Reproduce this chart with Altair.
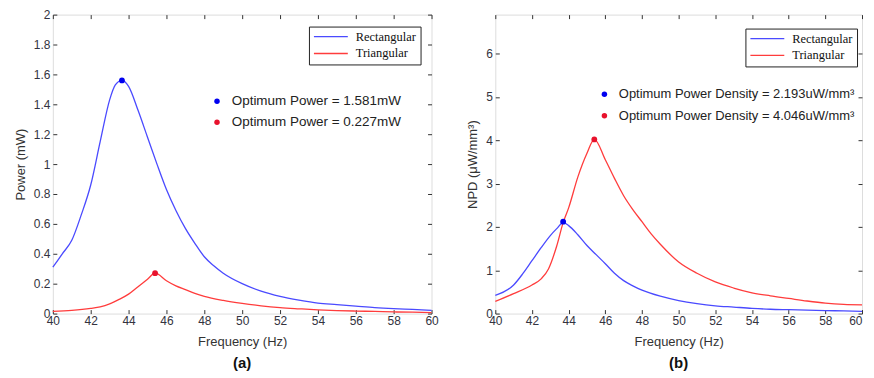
import altair as alt
import pandas as pd

# ---------------- data ----------------
series = ["Rectangular", "Triangular"]

# panel (a): power (mW)
freq_a_rect = [40, 40.5, 41, 41.5, 42, 42.5, 43, 43.3, 43.65, 44, 44.5, 45, 45.5, 46, 46.5, 47, 47.5, 48, 48.5, 49, 50, 51, 52, 53, 54, 55, 56, 57, 58, 59, 60]
power_rect = [0.31, 0.40, 0.49, 0.66, 0.86, 1.15, 1.43, 1.53, 1.56, 1.52, 1.36, 1.18, 1.00, 0.83, 0.69, 0.57, 0.47, 0.38, 0.32, 0.27, 0.20, 0.15, 0.115, 0.09, 0.07, 0.06, 0.05, 0.04, 0.033, 0.028, 0.022]
freq_a_tri = [40, 41, 42, 42.5, 43, 43.5, 44, 44.5, 45, 45.4, 46, 46.5, 47, 47.5, 48, 49, 50, 51, 52, 53, 54, 55, 56, 57, 58, 59, 60]
power_tri = [0.015, 0.022, 0.035, 0.045, 0.065, 0.095, 0.13, 0.18, 0.23, 0.27, 0.22, 0.185, 0.16, 0.135, 0.115, 0.088, 0.068, 0.052, 0.04, 0.032, 0.025, 0.02, 0.017, 0.014, 0.011, 0.009, 0.007]
peak_a_freq = [43.65, 45.4]
peak_a_val = [1.56, 0.27]
peak_a_labels = ["Optimum Power = 1.581mW", "Optimum Power = 0.227mW"]

# panel (b): NPD (uW/mm3)
freq_b_rect = [40, 41, 41.5, 42, 42.5, 43, 43.35, 43.7, 44, 44.5, 45, 45.5, 46, 46.5, 47, 47.5, 48, 49, 50, 51, 52, 53, 54, 55, 56, 57, 58, 59, 60]
npd_rect = [0.42, 0.66, 0.92, 1.22, 1.52, 1.8, 1.96, 2.1, 2.03, 1.82, 1.57, 1.36, 1.15, 0.93, 0.76, 0.64, 0.54, 0.4, 0.3, 0.23, 0.18, 0.15, 0.12, 0.1, 0.09, 0.08, 0.07, 0.06, 0.05]
freq_b_tri = [40, 41, 42, 42.5, 42.9, 43.35, 43.7, 44, 44.5, 45, 45.4, 46, 46.5, 47, 47.5, 48, 48.5, 49, 50, 51, 52, 53, 54, 55, 56, 57, 58, 59, 60]
npd_tri = [0.28, 0.46, 0.66, 0.8, 1.03, 1.56, 2.1, 2.44, 3.15, 3.7, 4.02, 3.55, 3.12, 2.72, 2.4, 2.12, 1.84, 1.6, 1.19, 0.93, 0.73, 0.59, 0.48, 0.41, 0.35, 0.29, 0.24, 0.21, 0.2]
peak_b_freq = [43.7, 45.4]
peak_b_val = [2.12, 4.02]
peak_b_labels = ["Optimum Power Density = 2.193uW/mm\u00b3", "Optimum Power Density = 4.046uW/mm\u00b3"]

x_ticks = [40, 42, 44, 46, 48, 50, 52, 54, 56, 58, 60]
y_ticks_a = [0, 0.2, 0.4, 0.6, 0.8, 1, 1.2, 1.4, 1.6, 1.8, 2]
y_ticks_b = [0, 1, 2, 3, 4, 5, 6]

LINE_COLORS = ["#4a4aff", "#ff3c3c"]
DOT_COLORS = ["#0000f0", "#e8122d"]
SANS = "Liberation Sans"
SERIF = "Liberation Serif"
LABEL_COLOR = "#333340"


def axis_common(**kw):
    base = dict(
        domain=False, grid=False, tickSize=4, offset=-4, tickColor="#333",
        labelFont=SANS, labelFontSize=12, labelColor=LABEL_COLOR, labelFlush=False,
        titleFont=SANS, titleFontSize=13, titleFontWeight="normal", titleColor="#333",
    )
    base.update(kw)
    return alt.Axis(**base)


def panel(fr, fv, tf, tv, pf, pv, plabels, ydom, yticks, ytitle, caption,
          leg_xy, dot_xy, dot_row_pad, dot_font, width, flush_last=False):
    lines_df = pd.DataFrame({
        "freq": list(fr) + list(tf),
        "value": list(fv) + list(tv),
        "series": [series[0]] * len(fr) + [series[1]] * len(tf),
    })
    peaks_df = pd.DataFrame({"freq": pf, "value": pv, "label": plabels})

    xs = alt.Scale(domain=[40, 60], nice=False, zero=False)
    ys = alt.Scale(domain=ydom, nice=False, zero=False)

    xkw = dict(values=x_ticks, title="Frequency (Hz)", labelPadding=2, titlePadding=9)
    if flush_last:
        xkw["labelAlign"] = alt.ConditionalAxisLabelAlign(
            condition={"test": "datum.value >= 60", "value": "right"}, value="center")
    x_main = alt.X("freq:Q", scale=xs, axis=axis_common(**xkw))
    y_main = alt.Y("value:Q", scale=ys, axis=axis_common(values=yticks, title=ytitle, format="~g",
                                                         labelPadding=3, titlePadding=6))

    lines = alt.Chart(lines_df).mark_line(strokeWidth=1.3, interpolate="monotone").encode(
        x=x_main,
        y=y_main,
        stroke=alt.Stroke(
            "series:N",
            scale=alt.Scale(domain=series, range=LINE_COLORS),
            legend=alt.Legend(
                title=None, orient="none", legendX=leg_xy[0], legendY=leg_xy[1],
                strokeColor="#222", fillColor="white", padding=4,
                symbolType="stroke", symbolSize=1156, symbolStrokeWidth=1.3,
                clipHeight=12, rowPadding=4, labelOffset=7,
                labelFont=SERIF, labelFontSize=12.5, labelColor="#111",
            ),
        ),
    )

    dots = alt.Chart(peaks_df).mark_point(filled=True, size=34, opacity=1).encode(
        x=alt.X("freq:Q", scale=xs, axis=None),
        y=alt.Y("value:Q", scale=ys, axis=None),
        fill=alt.Fill(
            "label:N",
            scale=alt.Scale(domain=plabels, range=DOT_COLORS),
            sort=plabels,
            legend=alt.Legend(
                title=None, orient="none", legendX=dot_xy[0], legendY=dot_xy[1],
                padding=0, symbolType="circle", symbolSize=30, symbolStrokeWidth=0,
                rowPadding=dot_row_pad, labelOffset=8, clipHeight=14,
                labelFont=SANS, labelFontSize=dot_font, labelColor="#222", labelLimit=400,
            ),
        ),
    )

    mirror = alt.Chart(lines_df).mark_line(opacity=0).encode(
        x=alt.X("freq:Q", scale=xs, axis=axis_common(orient="top", values=x_ticks, labels=False, title=None)),
        y=alt.Y("value:Q", scale=ys, axis=axis_common(orient="right", values=yticks, labels=False, title=None)),
    )

    return alt.layer(lines, dots, mirror).resolve_axis(x="independent", y="independent").properties(
        width=width, height=300,
        title=alt.TitleParams(caption, orient="bottom", font=SANS, fontSize=15, fontWeight="bold",
                              color="#111", offset=8),
    )


left = panel(freq_a_rect, power_rect, freq_a_tri, power_tri, peak_a_freq, peak_a_val, peak_a_labels,
             [0, 2], y_ticks_a, "Power (mW)", "(a)", (257, 12), (158, 80), 7, 13.5, 380)
right = panel(freq_b_rect, npd_rect, freq_b_tri, npd_tri, peak_b_freq, peak_b_val, peak_b_labels,
              [0, 6.9], y_ticks_b, "NPD (\u03bcW/mm\u00b3)", "(b)", (251, 14), (103, 73), 7.5, 13, 368,
              flush_last=True)

chart = alt.hconcat(left, right, spacing=26).resolve_scale(
    stroke="independent", fill="independent"
).properties(
    padding={"left": 5, "top": -1, "right": 0, "bottom": 0}
).configure_view(stroke="#555", strokeWidth=1).configure(background="white")

chart.save("out.html", embed_options={"renderer": "svg", "actions": False})
